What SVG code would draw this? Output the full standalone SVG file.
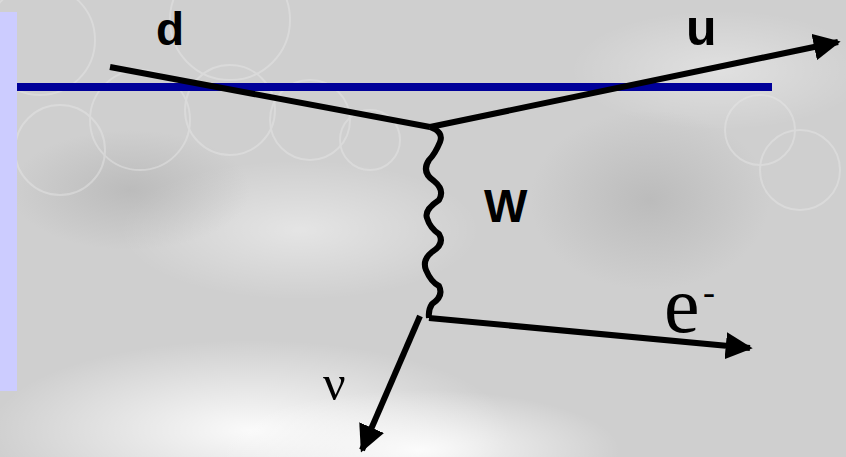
<svg xmlns="http://www.w3.org/2000/svg" width="846" height="457" viewBox="0 0 846 457">
<defs>
<style>
.ln{stroke:#000;stroke-width:6;fill:none;stroke-linecap:butt}
.lbl{font-family:"Liberation Sans",Arial,sans-serif;font-weight:bold;fill:#000}
.ser{font-family:"Liberation Serif","Times New Roman",serif;fill:#000}
</style>
<marker id="ah" viewBox="0 0 10 10" refX="9" refY="5" markerWidth="4.5" markerHeight="4.5" markerUnits="strokeWidth" orient="auto">
<path d="M0,0 L10,5 L0,10 Z" fill="#000"/>
</marker>
<radialGradient id="g1" cx="0.5" cy="0.5" r="0.5">
<stop offset="0" stop-color="#ffffff" stop-opacity="0.9"/>
<stop offset="1" stop-color="#ffffff" stop-opacity="0"/>
</radialGradient>
<radialGradient id="g2" cx="0.5" cy="0.5" r="0.5">
<stop offset="0" stop-color="#a8a8a8" stop-opacity="0.5"/>
<stop offset="1" stop-color="#a8a8a8" stop-opacity="0"/>
</radialGradient>
</defs>
<g id="background">
<rect width="846" height="457" fill="#cfcfcf"/>
<ellipse cx="250" cy="430" rx="260" ry="90" fill="url(#g1)"/>
<ellipse cx="420" cy="450" rx="200" ry="60" fill="url(#g1)"/>
<ellipse cx="720" cy="70" rx="150" ry="60" fill="url(#g1)" opacity="0.4"/>
<ellipse cx="300" cy="230" rx="180" ry="70" fill="url(#g1)" opacity="0.5"/>
<ellipse cx="650" cy="200" rx="120" ry="90" fill="url(#g2)"/>
<ellipse cx="130" cy="190" rx="120" ry="60" fill="url(#g2)"/>
<g fill="none" stroke="#e8e8e8" stroke-width="2" opacity="0.45">
<circle cx="60" cy="150" r="45"/>
<circle cx="140" cy="120" r="50"/>
<circle cx="230" cy="110" r="45"/>
<circle cx="310" cy="120" r="40"/>
<circle cx="370" cy="140" r="30"/>
<circle cx="40" cy="40" r="55"/>
<circle cx="230" cy="20" r="60"/>
<circle cx="760" cy="130" r="35"/>
<circle cx="800" cy="170" r="40"/>
</g>
<rect x="0" y="12" width="17" height="379" fill="#ccccff"/>
</g>
<g id="baseline">
<line x1="17" y1="87" x2="772" y2="87" stroke="#000099" stroke-width="8"/>
</g>
<g id="connectors">
<path id="d-line" class="ln" d="M110,67 L430,127"/>
<path id="u-line" class="ln" d="M430,127 L838,42" marker-end="url(#ah)"/>
<path id="w-boson" class="ln" stroke-width="7" stroke-linejoin="round" d="M430,127 Q444,132 440,142 Q435,154 429,160 Q421,172 434,181 Q445,190 439,200 Q424,210 427,218 Q430,228 439,234 Q445,244 432,252 Q422,260 426,270 Q431,282 439,286 Q444,296 432,304 Q428,310 429,318"/>
<path id="e-line" class="ln" d="M429,318 L750,348" marker-end="url(#ah)"/>
<path id="nu-line" class="ln" d="M420,316 L362,450" marker-end="url(#ah)"/>
</g>
<g id="label-d"><text class="lbl" x="156" y="45" font-size="46">d</text></g>
<g id="label-u"><text class="lbl" x="686" y="45" font-size="50">u</text></g>
<g id="label-W"><text class="lbl" x="484" y="222" font-size="46">W</text></g>
<g id="label-e"><text class="ser" x="664" y="332" font-size="80">e</text><text class="ser" x="703" y="304" font-size="36">-</text></g>
<g id="label-nu"><text class="ser" x="323" y="400" font-size="50">ν</text></g>
</svg>
